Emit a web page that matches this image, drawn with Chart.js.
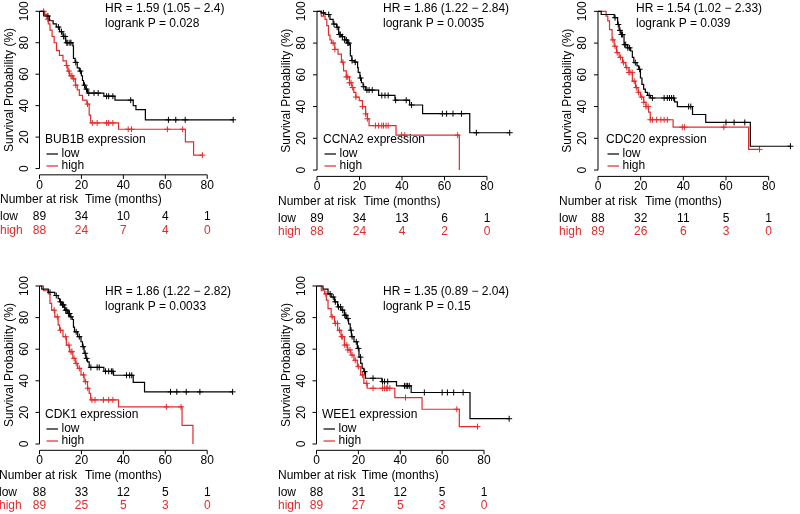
<!DOCTYPE html>
<html>
<head>
<meta charset="utf-8">
<script src="https://cdn.jsdelivr.net/npm/chart.js"></script>
<style>
  body { margin: 0; background: #fff; }
  #wrap { position: relative; width: 800px; height: 514px; overflow: hidden; background: #fff; }
  #wrap canvas { position: absolute; }
</style>
</head>
<body>
<div id="wrap"></div>
<script>
// textos de cada panel
const genes = ['BUB1B', 'CCNA2', 'CDC20', 'CDK1', 'WEE1'];
const hrTexts = ['HR = 1.59 (1.05 \u2212 2.4)', 'HR = 1.86 (1.22 \u2212 2.84)', 'HR = 1.54 (1.02 \u2212 2.33)', 'HR = 1.86 (1.22 \u2212 2.82)', 'HR = 1.35 (0.89 \u2212 2.04)'];
const pTexts = ['logrank P = 0.028', 'logrank P = 0.0035', 'logrank P = 0.039', 'logrank P = 0.0033', 'logrank P = 0.15'];
const xTicks = [0, 20, 40, 60, 80];
const yTicks = [0, 20, 40, 60, 80, 100];

// number at risk (en 0, 20, 40, 60, 80 meses)
const riskLow = [[89, 34, 10, 4, 1], [89, 34, 13, 6, 1], [88, 32, 11, 5, 1], [88, 33, 12, 5, 1], [88, 31, 12, 5, 1]];
const riskHigh = [[88, 24, 7, 4, 0], [88, 24, 4, 2, 0], [89, 26, 6, 3, 0], [89, 25, 5, 3, 0], [89, 27, 5, 3, 0]];

// curvas: T = meses de cada escalon, S = supervivencia (%) despues del escalon, C = censuras
const bub1bLowT = [0, 2, 4.7, 6.5, 8, 9.6, 11.2, 12.5, 15.9, 16.2, 17, 18, 19, 20, 20.5, 21, 21.8, 22.9, 30.7, 36, 44.7, 46, 50.5, 92.4];
const bub1bLowS = [100, 97, 94, 92, 90, 87, 84, 80, 78, 70, 67.5, 64, 62, 59, 56, 53, 50.5, 48, 46, 43.5, 40, 37.5, 31, 31];
const bub1bLowC = [4, 9, 10.5, 11.5, 12.2, 13, 13.5, 14.5, 15, 17.3, 19.5, 21.5, 22.4, 23.5, 26, 28, 32, 33, 35, 43.5, 61.5, 65, 69.5, 92.4];
const bub1bHighT = [0, 2.5, 3.5, 4.2, 5, 6, 7, 8.1, 9.5, 11.2, 12.8, 13.5, 14.3, 15.9, 17.1, 18, 19, 20.5, 22.6, 23.7, 24.4, 37.7, 69.6, 73.5, 77.7];
const bub1bHighS = [100, 98, 95, 92, 88, 84, 80, 75, 72, 68.5, 65.5, 62, 59, 57, 53, 50, 46.5, 43.5, 41, 34, 29, 25, 17, 8.5, 8.5];
const bub1bHighC = [2, 4, 13, 14, 15, 15.5, 16.3, 17.3, 22.9, 25.2, 27.5, 32, 33, 35, 42.3, 43.9, 61, 68.3, 77.7];

const ccna2LowT = [0, 2, 3.8, 6.1, 7.6, 9.2, 10.2, 11.5, 13, 14.5, 15.3, 15.7, 16.4, 17.6, 19.1, 19.4, 20.2, 20.9, 21.7, 22.9, 29, 36.7, 43.6, 49.7, 71.9, 90.7];
const ccna2LowS = [100, 99, 98, 95, 92, 90, 85.4, 84, 82, 80, 79, 72, 69, 68, 64.6, 61.5, 58, 55, 52.5, 50.4, 47, 44, 41, 35.5, 23.5, 23.5];
const ccna2LowC = [3, 5.5, 8, 9.5, 10.5, 11, 12, 13, 13.8, 14.5, 15, 16.5, 18, 20.5, 22, 23.5, 24.5, 26, 30.5, 32, 33.5, 37, 42, 44.5, 59, 61, 64, 68, 75, 90.7];
const ccna2HighT = [0, 2, 3.8, 4.6, 5.4, 6.1, 6.9, 8.4, 9.9, 11.5, 12.5, 13.8, 15.3, 16.4, 17.3, 18.3, 19.9, 21.4, 22.9, 23.7, 24.5, 37.2, 67];
const ccna2HighS = [100, 97, 95, 91, 85, 82, 80, 76, 73, 68, 62.5, 58.7, 55, 52, 49, 46, 43.7, 40, 35.4, 32.3, 28, 22, 0];
const ccna2HighC = [7.6, 8.4, 12.2, 13.8, 14.5, 15.3, 16, 16.8, 18.3, 21.4, 22.9, 23.7, 27.5, 29, 30.5, 31.3, 32.5, 33.5, 39.8, 41.3, 66.2];

const cdc20LowT = [0, 1.5, 7.6, 9.2, 9.9, 10.7, 12.2, 13.8, 15.3, 16.1, 16.8, 18.3, 19.1, 19.9, 20.6, 21.4, 22.2, 23.2, 24.5, 35.9, 37.2, 44.3, 50.5, 71.4, 90.2];
const cdc20LowS = [100, 98, 96, 91.7, 88, 85.4, 79, 77, 75, 71, 67.7, 65.6, 63.5, 58, 54, 51, 49, 47, 45.4, 43, 40, 35, 30, 15, 15];
const cdc20LowC = [8, 9.5, 10.3, 11, 11.5, 12.5, 13, 14, 14.8, 17.5, 19.5, 24, 25.5, 31, 32.5, 33.5, 34.5, 35.5, 42.5, 43.5, 60, 63.8, 68.8, 90.2];
const cdc20HighT = [0, 3.8, 4.6, 5.4, 6.6, 7.6, 8.7, 9.9, 11.5, 13, 14.5, 16.1, 17.6, 18.8, 19.9, 21.4, 22.5, 23.7, 24.5, 35.2, 70.6, 75.7];
const cdc20HighS = [100, 97, 94, 88.5, 82, 78, 74, 71, 67.7, 64.6, 61.5, 56, 52, 49, 46, 42.7, 40, 36.5, 31.7, 27, 13, 13];
const cdc20HighC = [7, 8, 9, 10.5, 12, 13.5, 14.5, 15, 16, 17, 18, 19, 20.5, 21.5, 22.5, 23.5, 24.5, 25.5, 27.5, 29.5, 31, 32.5, 39.5, 40.5, 59, 75.7];

const cdk1LowT = [0, 1.1, 4.2, 7.3, 8.9, 9.6, 10.4, 12, 13.5, 14.6, 15.6, 16.2, 16.7, 18.2, 19.8, 20.5, 21.3, 22.1, 22.9, 23.7, 30.7, 35.3, 44.7, 50.1, 92.1];
const cdk1LowS = [100, 98, 96, 94, 92, 90, 88, 84.7, 82.6, 80.5, 78.8, 74, 71, 67.9, 64.7, 61.6, 57.4, 54.2, 52, 48.5, 46, 43.5, 39, 33, 33];
const cdk1LowC = [5, 8, 10, 11, 11.5, 12.5, 13, 13.8, 14.3, 15, 17.5, 19, 20.8, 21.8, 22.5, 24.5, 27.5, 28.5, 31.5, 33, 34.3, 35, 41.5, 43, 44, 62.5, 65.5, 70, 76.5, 92.1];
const cdk1HighT = [0, 1.9, 4.2, 5, 5.8, 7.3, 8.9, 9.6, 11.2, 12.8, 14.3, 15.9, 17.1, 18.2, 19.8, 21.3, 22.9, 23.7, 24.4, 37.7, 68, 73.2];
const cdk1HighS = [100, 97, 95, 89, 84.7, 80.5, 75.2, 72, 67.9, 62.6, 58.4, 54.2, 51, 47.9, 43.7, 39.5, 35.3, 32, 27.9, 23.5, 11.8, 0];
const cdk1HighC = [7, 8.5, 10, 12.5, 14, 15, 15.5, 16.5, 17.5, 19, 21, 22, 23, 25, 26.5, 30.5, 33, 35, 60.5, 67.5];

const wee1LowT = [0, 3.1, 5.5, 7, 8.6, 10.1, 11.7, 13.3, 14.4, 15.3, 16.1, 16.7, 17.9, 19.5, 20.3, 21.1, 21.8, 22.6, 23.4, 31.2, 38.2, 45.2, 73.3, 92];
const wee1LowS = [100, 98, 95, 93, 90, 86.8, 84.7, 81.5, 79.4, 76, 72, 67.9, 64.7, 60.5, 55, 51, 47.9, 45.8, 41.6, 39.5, 36.8, 32.6, 16, 16];
const wee1LowC = [6.5, 8, 9, 10.5, 11.5, 12.5, 13.5, 14, 15, 16.5, 17, 19, 20, 21, 23, 27, 31.5, 32.5, 34, 42, 42.8, 43.5, 44.3, 51.5, 60, 62.5, 65.5, 70, 92];
const wee1HighT = [0, 2.3, 3.9, 4.7, 5.5, 7, 8.6, 10.1, 11.7, 13.3, 14.8, 16.4, 17.9, 19.5, 21.1, 22.6, 24.2, 37.4, 50.4, 68.2, 76.9];
const wee1HighS = [100, 97, 95, 91, 85.7, 80.5, 76.3, 72, 67.9, 62.6, 59.5, 56.3, 53, 49, 43.7, 38.4, 35.3, 29.4, 22, 11, 11];
const wee1HighC = [4.5, 7.5, 9, 10, 11, 12, 12.5, 13.5, 14.5, 15, 16, 17, 18.5, 20, 22, 24, 27, 31.5, 32.5, 33.5, 34, 35, 42.5, 67, 76.9];

const lowT = [bub1bLowT, ccna2LowT, cdc20LowT, cdk1LowT, wee1LowT];
const lowS = [bub1bLowS, ccna2LowS, cdc20LowS, cdk1LowS, wee1LowS];
const lowC = [bub1bLowC, ccna2LowC, cdc20LowC, cdk1LowC, wee1LowC];
const highT = [bub1bHighT, ccna2HighT, cdc20HighT, cdk1HighT, wee1HighT];
const highS = [bub1bHighS, ccna2HighS, cdc20HighS, cdk1HighS, wee1HighS];
const highC = [bub1bHighC, ccna2HighC, cdc20HighC, cdk1HighC, wee1HighC];

// ubicacion de cada panel en la pagina (px)
const panels = [
  { cx: 0, cy: 0, w: 266, x0: 39.5, x80: 211, y100: 10, y0: 168.5, hrX: 105, hrY: 9, legX: 45, legY: 140, riskX: 0 },
  { cx: 266, cy: 0, w: 267, x0: 317, x80: 491, y100: 10, y0: 170, hrX: 383, hrY: 9, legX: 323, legY: 140, riskX: 278 },
  { cx: 533, cy: 0, w: 267, x0: 598, x80: 773, y100: 10, y0: 170, hrX: 636, hrY: 9, legX: 606, legY: 140, riskX: 559 },
  { cx: 0, cy: 257, w: 266, x0: 39.5, x80: 211, y100: 286, y0: 444, hrX: 105, hrY: 292, legX: 45, legY: 415, riskX: -1 },
  { cx: 266, cy: 257, w: 267, x0: 316.5, x80: 488, y100: 286, y0: 444, hrX: 383, hrY: 292, legX: 322, legY: 415, riskX: 278 }
];
const panelH = 257;
const RED = '#e32b2b';
const FONT = '12px "Liberation Sans", Arial, Helvetica, sans-serif';

// valor de la curva en el tiempo t (para poner las cruces)
function survAt(T, S, t) {
  let s = S[0];
  for (let i = 0; i < T.length; i++) {
    if (T[i] <= t) s = S[i];
  }
  return s;
}

const rAxes = {
  id: 'rAxes',
  afterDraw(chart, args, opts) {
    const i = opts.panel;
    const p = panels[i];
    const ctx = chart.ctx;
    const xs = chart.scales.x;
    const ys = chart.scales.y;
    const x0 = xs.getPixelForValue(0);
    const x80 = xs.getPixelForValue(80);
    const yb = ys.getPixelForValue(-4);
    ctx.save();
    ctx.strokeStyle = '#000';
    ctx.fillStyle = '#000';
    ctx.lineWidth = 1;
    ctx.font = FONT;

    // eje y
    ctx.beginPath();
    ctx.moveTo(x0, ys.getPixelForValue(0));
    ctx.lineTo(x0, ys.getPixelForValue(100));
    yTicks.forEach(v => {
      const y = ys.getPixelForValue(v);
      ctx.moveTo(x0, y);
      ctx.lineTo(x0 - 4, y);
    });
    // eje x
    ctx.moveTo(x0, yb);
    ctx.lineTo(x80, yb);
    xTicks.forEach(v => {
      const x = xs.getPixelForValue(v);
      ctx.moveTo(x, yb);
      ctx.lineTo(x, yb + 4);
    });
    ctx.stroke();

    ctx.textAlign = 'center';
    ctx.textBaseline = 'middle';
    yTicks.forEach(v => {
      ctx.save();
      ctx.translate(x0 - 15, ys.getPixelForValue(v));
      ctx.rotate(-Math.PI / 2);
      ctx.fillText(String(v), 0, 0);
      ctx.restore();
    });
    const yMid = (ys.getPixelForValue(0) + ys.getPixelForValue(100)) / 2;
    ctx.save();
    ctx.translate(x0 - 30, yMid);
    ctx.rotate(-Math.PI / 2);
    ctx.fillText('Survival Probability (%)', 0, 0);
    ctx.restore();

    const y0 = ys.getPixelForValue(0);
    xTicks.forEach(v => ctx.fillText(String(v), xs.getPixelForValue(v), y0 + 17));
    ctx.fillText('Time (months)', (x0 + x80) / 2, y0 + 31.5);

    // tabla number at risk
    xTicks.forEach((v, j) => {
      const x = xs.getPixelForValue(v);
      ctx.fillStyle = '#000';
      ctx.fillText(String(riskLow[i][j]), x, y0 + 48.5);
      ctx.fillStyle = RED;
      ctx.fillText(String(riskHigh[i][j]), x, y0 + 62);
    });
    ctx.textAlign = 'left';
    const rx = p.riskX - p.cx;
    ctx.fillStyle = '#000';
    ctx.fillText('Number at risk', rx, y0 + 31.5);
    ctx.fillText('low', rx, y0 + 48.5);
    ctx.fillStyle = RED;
    ctx.fillText('high', rx, y0 + 62);

    // HR y p
    ctx.fillStyle = '#000';
    ctx.fillText(hrTexts[i], p.hrX - p.cx, p.hrY - p.cy);
    ctx.fillText(pTexts[i], p.hrX - p.cx, p.hrY - p.cy + 15);

    // leyenda
    const lx = p.legX - p.cx;
    const ly = p.legY - p.cy;
    ctx.fillText(genes[i] + ' expression', lx, ly);
    ctx.fillText('low', lx + 16.5, ly + 14);
    ctx.fillText('high', lx + 16.5, ly + 26);
    ctx.lineWidth = 1.2;
    ctx.beginPath();
    ctx.moveTo(lx + 1.5, ly + 14);
    ctx.lineTo(lx + 13, ly + 14);
    ctx.stroke();
    ctx.strokeStyle = RED;
    ctx.beginPath();
    ctx.moveTo(lx + 1.5, ly + 26);
    ctx.lineTo(lx + 13, ly + 26);
    ctx.stroke();
    ctx.restore();
  }
};

const wrap = document.getElementById('wrap');
panels.forEach((p, i) => {
  const cv = document.createElement('canvas');
  cv.width = p.w;
  cv.height = panelH;
  cv.style.left = p.cx + 'px';
  cv.style.top = p.cy + 'px';
  cv.style.width = p.w + 'px';
  cv.style.height = panelH + 'px';
  wrap.appendChild(cv);

  const ppm = (p.x80 - p.x0) / 80;
  const k = (p.y0 - p.y100) / 100;
  const xMax = (p.cx + p.w - p.x0) / ppm;

  const lineData = (T, S) => T.map((t, j) => ({ x: t, y: S[j] }));
  const censData = (T, S, C) => C.map(t => ({ x: t, y: survAt(T, S, t) }));

  new Chart(cv, {
    type: 'line',
    data: {
      datasets: [
        { data: lineData(lowT[i], lowS[i]), borderColor: '#000', borderWidth: 1.2, stepped: true, pointRadius: 0, clip: false },
        { data: lineData(highT[i], highS[i]), borderColor: RED, borderWidth: 1.2, stepped: true, pointRadius: 0, clip: false },
        { data: censData(lowT[i], lowS[i], lowC[i]), showLine: false, pointStyle: 'cross', pointRadius: 3, borderColor: '#000', borderWidth: 1, clip: false },
        { data: censData(highT[i], highS[i], highC[i]), showLine: false, pointStyle: 'cross', pointRadius: 3, borderColor: RED, borderWidth: 1, clip: false }
      ]
    },
    options: {
      responsive: false,
      animation: false,
      events: [],
      layout: {
        padding: {
          left: p.x0 - p.cx,
          right: 0,
          top: p.y100 - 4 * k - p.cy,
          bottom: p.cy + panelH - (p.y0 + 4 * k)
        }
      },
      scales: {
        x: { type: 'linear', min: 0, max: xMax, display: false },
        y: { type: 'linear', min: -4, max: 104, display: false }
      },
      plugins: {
        legend: { display: false },
        tooltip: { enabled: false },
        rAxes: { panel: i }
      }
    },
    plugins: [rAxes]
  });
});
</script>
</body>
</html>
